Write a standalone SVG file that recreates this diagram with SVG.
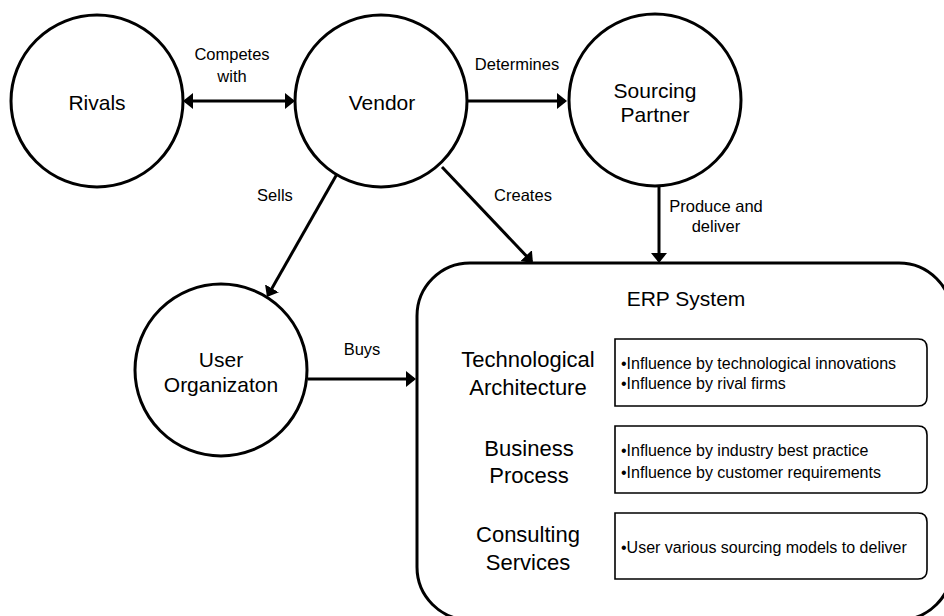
<svg xmlns="http://www.w3.org/2000/svg" width="944" height="616" viewBox="0 0 944 616">
  <style>
    .node { fill: #fff; stroke: #000; stroke-width: 3; }
    .box { fill: #fff; stroke: #000; stroke-width: 1.6; }
    .edge { fill: none; stroke: #000; stroke-width: 3; }
    text { font-family: "Liberation Sans", Arial, sans-serif; fill: #000; }
    .big { font-size: 21px; text-anchor: middle; }
    .lbl { font-size: 16.5px; text-anchor: middle; }
    .sec { font-size: 22px; text-anchor: middle; }
    .item { font-size: 16px; }
  </style>
  <defs>
    <marker id="arrow" markerUnits="userSpaceOnUse" viewBox="0 0 10 16" markerWidth="10" markerHeight="16" refX="8" refY="8" orient="auto-start-reverse">
      <path d="M0,0 L10,8 L0,16 Z" fill="#000"/>
    </marker>
  </defs>

  <rect width="944" height="616" fill="#fff"/>

  <!-- ERP system container -->
  <g id="erp-system">
    <rect class="node" x="417" y="263" width="535" height="357" rx="53" ry="53"/>
    <text class="big" x="686" y="306">ERP System</text>

    <g id="tech-architecture">
      <text class="sec" x="528" y="367">Technological</text>
      <text class="sec" x="528" y="395">Architecture</text>
      <path class="box" d="M615,339 H918 Q927,339 927,348 V397 Q927,406 918,406 H615 Z"/>
      <text class="item" x="621" y="369">•Influence by technological innovations</text>
      <text class="item" x="621" y="389">•Influence by rival firms</text>
    </g>

    <g id="business-process">
      <text class="sec" x="529" y="456">Business</text>
      <text class="sec" x="529" y="483">Process</text>
      <path class="box" d="M615,426 H918 Q927,426 927,435 V484 Q927,493 918,493 H615 Z"/>
      <text class="item" x="621" y="456">•Influence by industry best practice</text>
      <text class="item" x="621" y="478">•Influence by customer requirements</text>
    </g>

    <g id="consulting-services">
      <text class="sec" x="528" y="542">Consulting</text>
      <text class="sec" x="528" y="570">Services</text>
      <path class="box" d="M615,513 H918 Q927,513 927,522 V570 Q927,579 918,579 H615 Z"/>
      <text class="item" x="621" y="553">•User various sourcing models to deliver</text>
    </g>
  </g>

  <g id="rivals">
    <circle class="node" cx="97" cy="101" r="86"/>
    <text class="big" x="97" y="110">Rivals</text>
  </g>

  <g id="vendor">
    <circle class="node" cx="381" cy="101" r="86"/>
    <text class="big" x="382" y="110">Vendor</text>
  </g>

  <g id="sourcing-partner">
    <circle class="node" cx="655" cy="100" r="86"/>
    <text class="big" x="655" y="98">Sourcing</text>
    <text class="big" x="655" y="122">Partner</text>
  </g>

  <g id="user-organization">
    <circle class="node" cx="221" cy="370" r="86"/>
    <text class="big" x="221" y="367">User</text>
    <text class="big" x="221" y="392">Organizaton</text>
  </g>

  <!-- connectors -->
  <g id="connectors">
    <line class="edge" x1="185" y1="101" x2="293" y2="101" marker-start="url(#arrow)" marker-end="url(#arrow)"/>
    <line class="edge" x1="468" y1="101" x2="565" y2="101" marker-end="url(#arrow)"/>
    <line class="edge" x1="659" y1="186" x2="659" y2="261" marker-end="url(#arrow)"/>
    <line class="edge" x1="442" y1="167" x2="531.6" y2="261.5" marker-end="url(#arrow)"/>
    <line class="edge" x1="337" y1="174" x2="268" y2="295.3" marker-end="url(#arrow)"/>
    <line class="edge" x1="308" y1="379" x2="414" y2="379" marker-end="url(#arrow)"/>

    <text class="lbl" x="232" y="60">Competes</text>
    <text class="lbl" x="232" y="82">with</text>
    <text class="lbl" x="517" y="70">Determines</text>
    <text class="lbl" x="275" y="201">Sells</text>
    <text class="lbl" x="523" y="201">Creates</text>
    <text class="lbl" x="716" y="212">Produce and</text>
    <text class="lbl" x="716" y="232">deliver</text>
    <text class="lbl" x="362" y="355">Buys</text>
  </g>
</svg>
